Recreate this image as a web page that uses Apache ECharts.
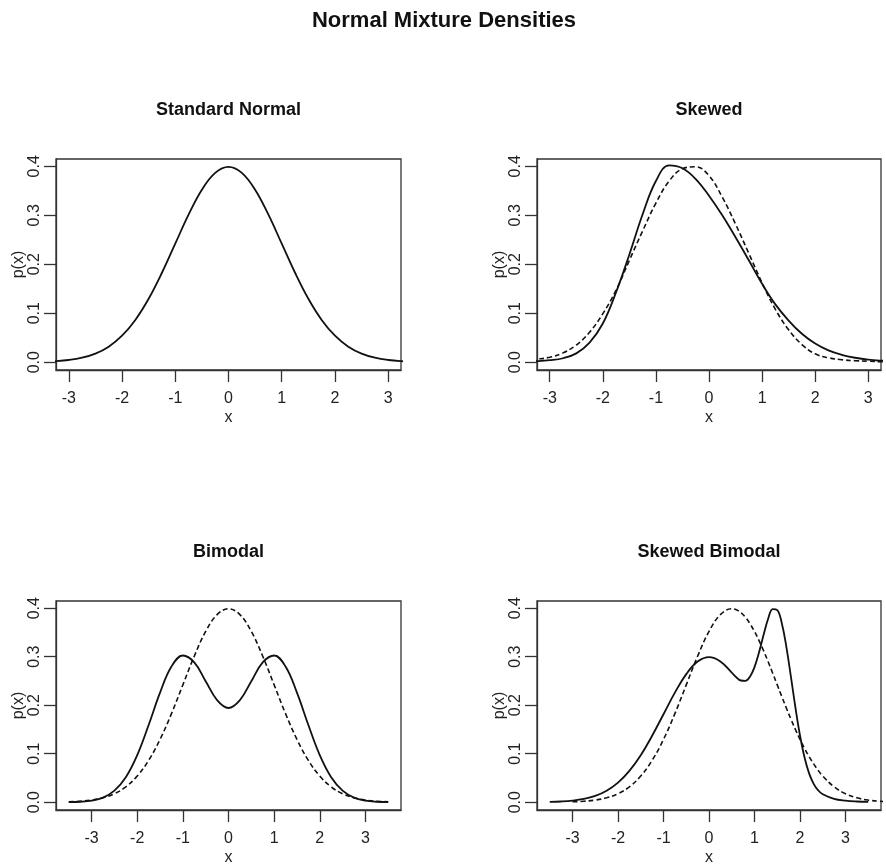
<!DOCTYPE html>
<html>
<head>
<meta charset="utf-8">
<title>Normal Mixture Densities</title>
<script src="https://cdn.jsdelivr.net/npm/echarts@6/dist/echarts.min.js"></script>
<style>
  html, body { margin: 0; padding: 0; background: #fff; }
  #main { width: 886px; height: 867px; }
</style>
</head>
<body>
<div id="main"></div>
<script>
// ------------------------------------------------------------
// Normal Mixture Densities — 2x2 panels, solid = mixture, dashed = normal
// ------------------------------------------------------------

// x grid shared by the first three panels
var X_GRID = [-3.5, -3.25, -3, -2.75, -2.5, -2.25, -2, -1.75, -1.5, -1.25, -1, -0.75, -0.5, -0.25, 0,
  0.25, 0.5, 0.75, 1, 1.25, 1.5, 1.75, 2, 2.25, 2.5, 2.75, 3, 3.25, 3.5];

// Standard Normal (also the dashed curve of Bimodal)
var STD_NORMAL = [0.0009, 0.0020, 0.0044, 0.0091, 0.0175, 0.0317, 0.0540, 0.0863, 0.1295, 0.1826, 0.2420, 0.3011, 0.3521, 0.3867, 0.3989,
  0.3867, 0.3521, 0.3011, 0.2420, 0.1826, 0.1295, 0.0863, 0.0540, 0.0317, 0.0175, 0.0091, 0.0044, 0.0020, 0.0009];

// Skewed
var SKEWED = [0.001, 0.002, 0.004, 0.008, 0.018, 0.040, 0.079, 0.143, 0.220, 0.302, 0.370, 0.402, 0.396, 0.374, 0.340,
  0.300, 0.255, 0.208, 0.160, 0.118, 0.085, 0.058, 0.038, 0.024, 0.015, 0.009, 0.005, 0.003, 0.002];
var SKEWED_REF = [0.003, 0.006, 0.010, 0.019, 0.035, 0.061, 0.099, 0.147, 0.208, 0.268, 0.325, 0.370, 0.395, 0.399, 0.381,
  0.337, 0.282, 0.222, 0.162, 0.108, 0.066, 0.036, 0.017, 0.009, 0.005, 0.003, 0.002, 0.001, 0.001];

// Bimodal
var BIMODAL = [0.0003, 0.0010, 0.0033, 0.0095, 0.0238, 0.0515, 0.0971, 0.1592, 0.2260, 0.2798, 0.3025, 0.2883, 0.2496, 0.2106, 0.1943,
  0.2106, 0.2496, 0.2883, 0.3025, 0.2798, 0.2260, 0.1592, 0.0971, 0.0515, 0.0238, 0.0095, 0.0033, 0.0010, 0.0003];
var BIMODAL_REF = STD_NORMAL;

// Skewed Bimodal (finer grid around the narrow peak)
var X_SKB = [-3.5, -3.25, -3, -2.75, -2.5, -2.25, -2, -1.75, -1.5, -1.25, -1, -0.75, -0.5, -0.25, 0, 0.25, 0.5,
  0.6, 0.7, 0.8, 0.9, 1.0, 1.1, 1.2, 1.3, 1.4, 1.5, 1.6, 1.7, 1.8, 1.9, 2.0, 2.1, 2.2, 2.3, 2.4,
  2.5, 2.75, 3, 3.25, 3.5];
var SKEWED_BIMODAL = [0.0007, 0.0015, 0.0033, 0.0068, 0.0131, 0.0238, 0.0405, 0.0647, 0.0971, 0.1370, 0.1815, 0.2259, 0.2641, 0.2900, 0.2992, 0.2903, 0.2674,
  0.2577, 0.2510, 0.2503, 0.2588, 0.2786, 0.3090, 0.3452, 0.3784, 0.3983, 0.3963, 0.3692, 0.3204, 0.2588, 0.1948, 0.1376, 0.0922, 0.0596, 0.0380, 0.0246,
  0.0164, 0.0071, 0.0033, 0.0015, 0.0007];
var X_SKB_REF = [-3, -2.75, -2.5, -2.25, -2, -1.75, -1.5, -1.25, -1, -0.75, -0.5, -0.25, 0, 0.25, 0.5,
  0.6, 0.7, 0.8, 0.9, 1.0, 1.1, 1.2, 1.3, 1.4, 1.5, 1.6, 1.7, 1.8, 1.9, 2.0, 2.1, 2.2, 2.3, 2.4,
  2.5, 2.75, 3, 3.25, 3.5, 3.75, 4];
var SKEWED_BIMODAL_REF = [0.0009, 0.0020, 0.0044, 0.0091, 0.0175, 0.0317, 0.0540, 0.0863, 0.1295, 0.1826, 0.2420, 0.3011, 0.3521, 0.3867, 0.3989,
  0.3970, 0.3910, 0.3814, 0.3683, 0.3521, 0.3332, 0.3123, 0.2897, 0.2661, 0.2420, 0.2179, 0.1942, 0.1714, 0.1497, 0.1295, 0.1109, 0.0940, 0.0790, 0.0656,
  0.0540, 0.0317, 0.0175, 0.0091, 0.0044, 0.0020, 0.0009];

// ticks
var X_TICKS = [-3, -2, -1, 0, 1, 2, 3];
var Y_TICKS = [0, 0.1, 0.2, 0.3, 0.4];

var PANEL_TITLES = ['Standard Normal', 'Skewed', 'Bimodal', 'Skewed Bimodal'];
var MAIN_TITLE = 'Normal Mixture Densities';

var FONT = '"Liberation Sans", Arial, Helvetica, sans-serif';
var INK = '#111';
var TXT = '#222';

// panel boxes [left, top, width, height, xmin, xmax]
var panels = [
  [56, 159, 345, 211, -3.24, 3.24],
  [537, 159, 344, 211, -3.24, 3.24],
  [56, 601, 345, 211, -3.78, 3.78],
  [537, 601, 344, 211, -3.78, 3.78]
];

function zip(xs, ys) {
  return xs.map(function (x, i) { return [x, ys[i]]; });
}

var grids = [], xAxes = [], yAxes = [], graphics = [];

panels.forEach(function (p, i) {
  grids.push({
    left: p[0], top: p[1], width: p[2], height: p[3],
    show: true, borderColor: '#333', borderWidth: 1.3, backgroundColor: 'transparent'
  });
  xAxes.push({
    type: 'value', gridIndex: i, min: p[4], max: p[5],
    name: 'x', nameLocation: 'middle', nameGap: 40,
    nameTextStyle: { color: TXT, fontSize: 16, fontFamily: FONT },
    axisLine: { show: true, onZero: false, lineStyle: { color: '#333', width: 1.3 } },
    splitLine: { show: false },
    axisTick: { show: true, inside: false, length: 12, customValues: X_TICKS, lineStyle: { color: '#333', width: 1.3 } },
    axisLabel: {
      customValues: X_TICKS, margin: 21, color: TXT, fontSize: 16, fontFamily: FONT,
      formatter: function (v) { return String(v); }
    }
  });
  yAxes.push({
    type: 'value', gridIndex: i, min: -0.016, max: 0.4149,
    name: 'p(x)', nameLocation: 'middle', nameGap: 21, nameRotate: 90,
    nameTextStyle: { color: TXT, fontSize: 16, fontFamily: FONT },
    axisLine: { show: true, onZero: false, lineStyle: { color: '#333', width: 1.3 } },
    splitLine: { show: false },
    axisTick: { show: true, inside: false, length: 12, customValues: Y_TICKS, lineStyle: { color: '#333', width: 1.3 } },
    axisLabel: {
      customValues: Y_TICKS, rotate: 90, margin: 13, color: TXT, fontSize: 16, fontFamily: FONT,
      formatter: function (v) { return v.toFixed(1); }
    }
  });
  graphics.push({
    type: 'text', x: p[0] + p[2] / 2, y: p[1] - 49,
    style: {
      text: PANEL_TITLES[i], align: 'center', verticalAlign: 'middle',
      fontSize: 18, fontWeight: 'bold', fontFamily: FONT, fill: INK
    }
  });
});

graphics.push({
  type: 'text', x: 444, y: 21,
  style: {
    text: MAIN_TITLE, align: 'center', verticalAlign: 'middle',
    fontSize: 22, fontWeight: 'bold', fontFamily: FONT, fill: INK
  }
});

function curve(idx, xs, ys, dashed, clip) {
  return {
    type: 'line', xAxisIndex: idx, yAxisIndex: idx,
    data: zip(xs, ys),
    showSymbol: false, smooth: 0.4, clip: clip, silent: true,
    lineStyle: { color: INK, width: dashed ? 1.6 : 1.8, type: dashed ? [5, 3] : 'solid' }
  };
}

var chart = echarts.init(document.getElementById('main'));
chart.setOption({
  animation: false,
  backgroundColor: '#fff',
  grid: grids,
  xAxis: xAxes,
  yAxis: yAxes,
  graphic: graphics,
  series: [
    curve(0, X_GRID, STD_NORMAL, false, false),
    curve(1, X_GRID, SKEWED, false, false),
    curve(1, X_GRID, SKEWED_REF, true, false),
    curve(2, X_GRID, BIMODAL, false, true),
    curve(2, X_GRID, BIMODAL_REF, true, true),
    curve(3, X_SKB, SKEWED_BIMODAL, false, true),
    curve(3, X_SKB_REF, SKEWED_BIMODAL_REF, true, true)
  ]
});
</script>
</body>
</html>
